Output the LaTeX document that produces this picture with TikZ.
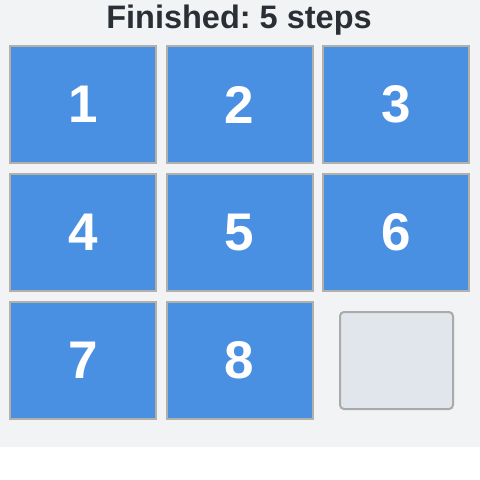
\documentclass[tikz,border=0pt]{standalone}
\usepackage{fontspec}
\setmainfont{Liberation Sans}
\frenchspacing
\definecolor{bgc}{HTML}{F2F3F5}
\definecolor{tilec}{HTML}{4A90E2}
\definecolor{tileb}{HTML}{B3AFA9}
\definecolor{emptyc}{HTML}{E1E6EC}
\definecolor{emptyb}{HTML}{AAAAAA}
\definecolor{titlec}{HTML}{2A2F36}
\begin{document}
\begin{tikzpicture}[x=1pt,y=-1pt,
  tile/.style={draw=tileb,line width=2pt,fill=tilec,minimum width=146pt,minimum height=117pt,inner sep=0pt,
    text=white,font=\fontsize{53}{53}\selectfont\bfseries},
  emptytile/.style={draw=emptyb,line width=2pt,fill=emptyc,rounded corners=4pt,minimum width=113pt,minimum height=97pt,inner sep=0pt},
  titletext/.style={text=titlec,font=\fontsize{32.5}{32.5}\selectfont\bfseries,inner sep=0pt}]
\useasboundingbox (0,0) rectangle (480,480);
\fill[white] (0,0) rectangle (480,480);
\fill[bgc] (0,0) rectangle (480,447);
\node[titletext] (title) at (239,20) {Finished:\ 5 steps};
\node[tile] (t1) at (83,104.5) {1};
\node[tile] (t2) at (239.5,104.5) {2};
\node[tile] (t3) at (396,104.5) {3};
\node[tile] (t4) at (83,232.5) {4};
\node[tile] (t5) at (239.5,232.5) {5};
\node[tile] (t6) at (396,232.5) {6};
\node[tile] (t7) at (83,360.5) {7};
\node[tile] (t8) at (239.5,360.5) {8};
\node[emptytile] (e) at (396.5,360.5) {};
\end{tikzpicture}
\end{document}
